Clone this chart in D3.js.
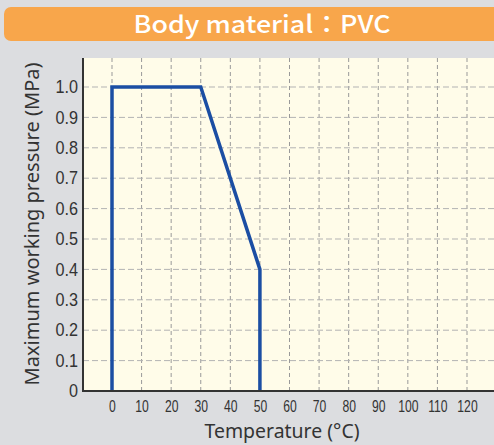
<!DOCTYPE html>
<html><head><meta charset="utf-8">
<script src="https://cdn.jsdelivr.net/npm/d3@7"></script>
<style>html,body{margin:0;padding:0;background:#dcdde0;}svg{display:block;}</style>
</head><body>
<svg id="c" width="494" height="445"></svg>
<script>
const title = "Body material：PVC";
const temps = [0, 0, 30, 50, 50];
const pressures = [0, 1.0, 1.0, 0.4, 0];
const xTicks = [0,10,20,30,40,50,60,70,80,90,100,110,120];
const yTicks = [0,0.1,0.2,0.3,0.4,0.5,0.6,0.7,0.8,0.9,1.0];
const xTitle = "Temperature (°C)";
const yTitle = "Maximum working pressure (MPa)";

const svg = d3.select("#c");
svg.append("rect").attr("width",494).attr("height",445).attr("fill","#dcdde0");
// banner
svg.append("rect").attr("x",4).attr("y",7).attr("width",510).attr("height",34).attr("rx",7).attr("fill","#f8a64b");
svg.append("text").attr("x",262).attr("y",33).attr("text-anchor","middle")
  .attr("fill","#fff").attr("font-family","'Noto Sans CJK JP','Noto Sans',sans-serif")
  .attr("font-size",24).attr("font-weight",500)
  .attr("textLength",257).attr("lengthAdjust","spacingAndGlyphs").text(title);

const L=83, R=494, T=58, B=391;
const x = d3.scaleLinear().domain([0,120]).range([112,467]);
const y = d3.scaleLinear().domain([0,1]).range([B,87]);

svg.append("rect").attr("x",L).attr("y",T).attr("width",R-L).attr("height",B-T).attr("fill","#fffce9");

const g = svg.append("g");
// vertical grid
g.selectAll(".vg").data(d3.range(0,140,10)).join("line")
  .attr("x1",d=>x(d)).attr("x2",d=>x(d)).attr("y1",T).attr("y2",B)
  .attr("stroke","#999").attr("stroke-width",1).attr("stroke-dasharray","4,3");
// horizontal grid
g.selectAll(".hg").data(yTicks.filter(d=>d>0)).join("line")
  .attr("x1",L).attr("x2",R).attr("y1",d=>y(d)).attr("y2",d=>y(d))
  .attr("stroke","#b3b3b3").attr("stroke-width",1).attr("stroke-dasharray","6,3");

// series
const line = d3.line().x((d,i)=>x(temps[i])).y((d,i)=>y(pressures[i]));
svg.append("path").attr("d",line(temps)).attr("fill","none")
  .attr("stroke","#1b4ea3").attr("stroke-width",3.5).attr("stroke-linejoin","miter");

// axes
const fontTick = "'Liberation Sans',Arial,sans-serif";
const xa = svg.append("g").attr("transform",`translate(0,${B})`)
  .call(d3.axisBottom(x).tickValues(xTicks).tickSize(0).tickPadding(10).tickFormat(d3.format("d")));
xa.select(".domain").remove();
xa.selectAll("text").attr("font-family",fontTick).attr("font-size",16).attr("fill","#333")
  .attr("transform","scale(0.76,1)");
const ya = svg.append("g").attr("transform",`translate(${L},0)`)
  .call(d3.axisLeft(y).tickValues(yTicks).tickSize(0).tickPadding(0).tickFormat(d=>d===0?"0":d3.format(".1f")(d)));
ya.select(".domain").remove();
ya.selectAll("text").attr("font-family",fontTick).attr("font-size",18).attr("fill","#333")
  .attr("x",0).attr("transform","translate(-5,0) scale(0.9,1)");

svg.append("path").attr("d",`M${L},${T}V${B}H${R}`).attr("fill","none").attr("stroke","#333").attr("stroke-width",2);

svg.append("text").attr("x",282).attr("y",438).attr("text-anchor","middle")
  .attr("font-family","'Noto Sans','Liberation Sans',sans-serif").attr("font-size",19.5).attr("fill","#333")
  .attr("textLength",155).attr("lengthAdjust","spacingAndGlyphs").text(xTitle);
svg.append("text").attr("transform",`translate(39,224) rotate(-90)`).attr("text-anchor","middle")
  .attr("font-family","'Noto Sans','Liberation Sans',sans-serif").attr("font-size",19.5).attr("fill","#333")
  .attr("textLength",323).attr("lengthAdjust","spacingAndGlyphs").text(yTitle);
</script>
</body></html>
